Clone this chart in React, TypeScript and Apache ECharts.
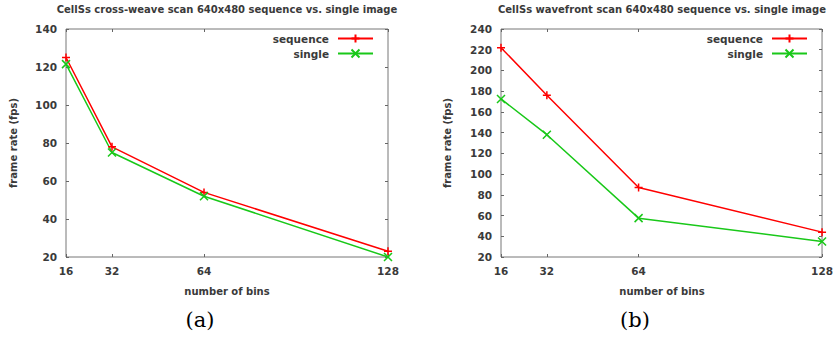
import React, { useEffect, useRef } from "react";
import * as echarts from "echarts";

const bins = [16, 32, 64, 128];
const crossSequence = [125, 78, 54, 23];
const crossSingle = [121.5, 75, 52, 20];
const waveSequence = [222, 176, 87, 44];
const waveSingle = [172.5, 138, 57.5, 35];
const titleA = "CellSs cross-weave scan 640x480 sequence vs. single image";
const titleB = "CellSs wavefront scan 640x480 sequence vs. single image";
const yName = "frame rate (fps)";
const xName = "number of bins";
const captions = ["(a)", "(b)"];
const seriesNames = ["sequence", "single"];

const RED = "#ff0000";
const GREEN = "#19c819";
const TXT = "#3a3a3a";
const FONT = "DejaVu Sans";
const PLUS = "path://M5,0L5,10M0,5L10,5";
const CROSS = "path://M0,0L10,10M10,0L0,10";

const pairs = (ys: number[]) => bins.map((b, i) => [b, ys[i]]);

export default function App() {
  const ref = useRef<HTMLDivElement>(null);
  useEffect(() => {
    if (!ref.current) return;
    const chart = echarts.init(ref.current, null, { renderer: "svg" });
    const W = 836;
    const grids = [
      { left: 66, right: W - 388, top: 29, bottom: 80 },
      { left: 501, right: W - 823, top: 29, bottom: 80 },
    ];
    const labelStyle = { color: TXT, fontFamily: FONT, fontSize: 10.5, fontWeight: "bold" as const };
    const xAxes: any[] = [];
    const yAxes: any[] = [];
    const yMax = [140, 240];
    [0, 1].forEach((g) => {
      xAxes.push({
        type: "value", gridIndex: g, min: 16, max: 128, position: "bottom",
        axisLine: { show: false }, splitLine: { show: false },
        axisTick: { inside: true, length: 3, customValues: bins, lineStyle: { color: "#666" } },
        axisLabel: { customValues: bins, margin: 8, ...labelStyle },
      });
      xAxes.push({
        type: "value", gridIndex: g, min: 16, max: 128, position: "top",
        axisLine: { show: false }, splitLine: { show: false },
        axisTick: { inside: true, length: 3, customValues: bins, lineStyle: { color: "#666" } },
        axisLabel: { show: false },
      });
      yAxes.push({
        type: "value", gridIndex: g, min: 20, max: yMax[g], interval: 20, position: "left",
        axisLine: { show: false }, splitLine: { show: false },
        axisTick: { show: true, inside: true, length: 3, lineStyle: { color: "#666" } },
        axisLabel: { margin: 9, ...labelStyle },
      });
      yAxes.push({
        type: "value", gridIndex: g, min: 20, max: yMax[g], interval: 20, position: "right",
        axisLine: { show: false }, splitLine: { show: false },
        axisTick: { show: true, inside: true, length: 3, lineStyle: { color: "#666" } },
        axisLabel: { show: false },
      });
    });
    const mk = (name: string, data: number[], g: number, color: string, sym: string) => ({
      name, type: "line", xAxisIndex: g * 2, yAxisIndex: g * 2,
      data: pairs(data), symbol: sym, symbolSize: 8,
      lineStyle: { color, width: 1.5 },
      itemStyle: { color, borderColor: color, borderWidth: 1.5 },
    });
    const series = [
      mk(seriesNames[0], crossSequence, 0, RED, PLUS),
      mk(seriesNames[1], crossSingle, 0, GREEN, CROSS),
      mk(seriesNames[0], waveSequence, 1, RED, PLUS),
      mk(seriesNames[1], waveSingle, 1, GREEN, CROSS),
    ];
    const legendRight = [W - 374, W - 808];
    const legends = [0, 1].map((g) => ({
      data: seriesNames, orient: "vertical", right: legendRight[g], top: 33, padding: 0,
      align: "right", itemWidth: 35, itemHeight: 10, itemGap: 4,
      textStyle: { color: TXT, fontFamily: FONT, fontSize: 10.5, fontWeight: "bold", padding: [0, 4, 0, 0] },
    }));
    const txt = (text: string, x: number, y: number, extra: any = {}) => ({
      type: "text", x, y, ...(extra.rotation ? { rotation: extra.rotation } : {}),
      style: {
        text, align: "center", verticalAlign: "middle", textAlign: "center", textVerticalAlign: "middle",
        fill: TXT, font: `bold ${extra.size || 10}px "${FONT}"`, ...(extra.style || {}),
      },
    });
    const capFont = { font: '21px "DejaVu Serif"', fill: "#000" };
    const graphic = [
      txt(titleA, 227, 9),
      txt(titleB, 662, 9),
      txt(yName, 13, 143, { rotation: Math.PI / 2 }),
      txt(yName, 447, 143, { rotation: Math.PI / 2 }),
      txt(xName, 227, 291),
      txt(xName, 662, 291),
      txt(captions[0], 200, 320, { style: capFont }),
      txt(captions[1], 635, 320, { style: capFont }),
    ];
    chart.setOption({
      animation: false,
      backgroundColor: "#fff",
      grid: grids.map((g) => ({ ...g, show: true, borderColor: "#777", borderWidth: 1, backgroundColor: "transparent" })),
      xAxis: xAxes,
      yAxis: yAxes,
      legend: legends,
      series,
      graphic,
    });
    return () => chart.dispose();
  }, []);
  return <div ref={ref} style={{ position: "fixed", left: 0, top: 0, width: 836, height: 337 }} />;
}
